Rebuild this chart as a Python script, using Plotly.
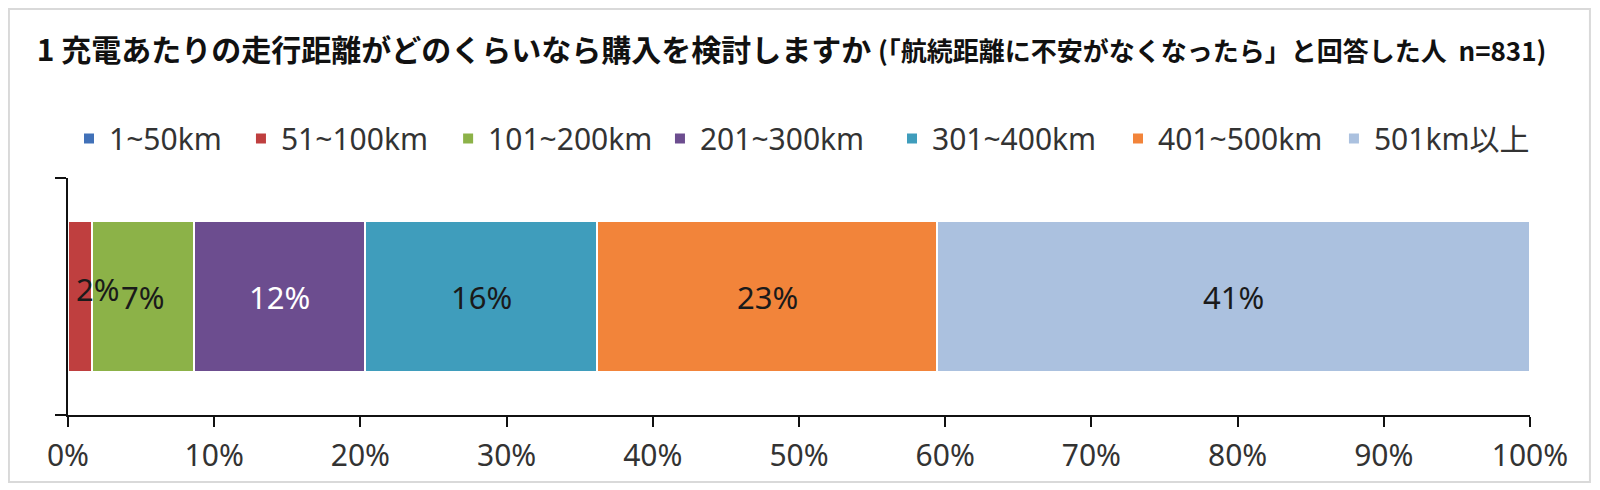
import plotly.graph_objects as go

# 1充電あたりの走行距離 (n=831)
ranges = ["1~50km", "51~100km", "101~200km", "201~300km", "301~400km", "401~500km", "501km以上"]
shares = [0.0, 1.64, 6.98, 11.7, 15.87, 23.26, 40.56]
colors = ["#4171B8", "#BF3F3F", "#8CB248", "#6C4D8F", "#3F9DBC", "#F2843A", "#ABC1DF"]
label_colors = ["#1a1a1a", "#1a1a1a", "#1a1a1a", "#ffffff", "#1a1a1a", "#1a1a1a", "#1a1a1a"]
xticks = list(range(0, 101, 10))
xticklabels = [f"{t}%" for t in xticks]

title_main = "1 充電あたりの走行距離がどのくらいなら購入を検討しますか"
title_sub = "(「航続距離に不安がなくなったら」と回答した人\u00a0\u00a0n=831)"

FONT = "Noto Sans, Noto Sans CJK JP, sans-serif"

# where each legend entry starts, as a fraction of the plot width (Excel spacing)
legend_pos = [0.0007, 0.1183, 0.2600, 0.4049, 0.5636, 0.7182, 0.8659]

fig = go.Figure()
for i, (name, v, c) in enumerate(zip(ranges, shares, colors)):
    lg = "legend" if i == 0 else f"legend{i + 1}"
    fig.add_trace(go.Bar(
        y=[0], x=[v], orientation="h",
        name=name, legend=lg,
        marker=dict(color=c, line=dict(color="white", width=2)),
        hoverinfo="skip",
    ))
    fig.update_layout({lg: dict(
        orientation="h", x=legend_pos[i], xanchor="left",
        y=1.1667, yanchor="middle",
        font=dict(size=30, color="#333333", family=FONT),
        bgcolor="rgba(0,0,0,0)",
    )})

# data labels, centred on each segment
cum = 0
for v, tc in zip(shares, label_colors):
    if v > 0:
        fig.add_annotation(
            x=cum + v / 2, y=0, text=f"{round(v)}%", showarrow=False,
            font=dict(size=31, color=tc, family=FONT),
            xshift=18 if v < 3 else 0, yshift=8 if v < 3 else 0,
        )
    cum += v

# light frame round the whole picture
fig.add_shape(type="rect", xref="paper", yref="paper",
              x0=-0.0404, x1=1.0410, y0=-0.2827, y1=1.713,
              line=dict(color="#d9d9d9", width=2), layer="below")

fig.update_layout(
    width=1592, height=482,
    barmode="stack", bargap=0.367,
    paper_bgcolor="white", plot_bgcolor="white",
    margin=dict(l=60, r=70, t=170, b=75),
    font=dict(family=FONT, color="#333333"),
    title=dict(
        text=f"<b>{title_main}</b> <span style='font-size:26px'><b>{title_sub}</b></span>",
        x=0.018, xanchor="left", xref="container",
        y=0.912, yanchor="middle", yref="container",
        font=dict(size=30, color="#111111", family="Noto Sans CJK JP, sans-serif"),
    ),
    showlegend=True,
)

fig.update_xaxes(
    range=[0, 100], tickmode="array", tickvals=xticks, ticktext=xticklabels,
    ticks="outside", ticklen=10, tickwidth=1.5, tickcolor="#111111",
    showline=True, linecolor="#111111", linewidth=2,
    showgrid=False, zeroline=False,
    tickfont=dict(size=30, color="#333333", family=FONT),
    ticklabelstandoff=3,
)
fig.update_yaxes(
    range=[-0.5, 0.5], tickvals=[-0.5, 0.5],
    ticks="outside", ticklen=11, tickwidth=2, tickcolor="#111111",
    showticklabels=False,
    showline=True, linecolor="#111111", linewidth=2,
    showgrid=False, zeroline=False,
)

fig.write_html("out.html")
